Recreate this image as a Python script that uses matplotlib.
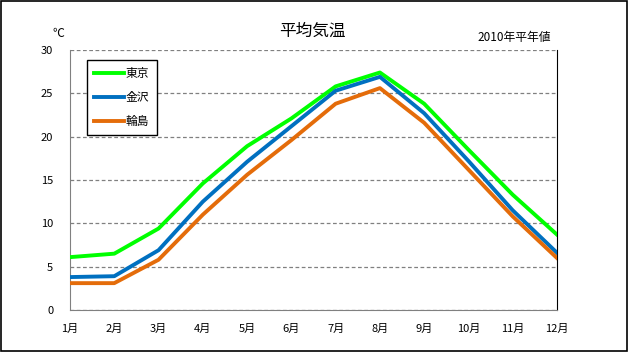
import matplotlib.pyplot as plt
from matplotlib.patches import Rectangle

plt.rcParams['font.family'] = ['Noto Sans CJK JP', 'DejaVu Sans']

months = ["1月", "2月", "3月", "4月", "5月", "6月", "7月", "8月", "9月", "10月", "11月", "12月"]
tokyo = [6.1, 6.5, 9.4, 14.6, 18.9, 22.1, 25.8, 27.4, 23.8, 18.5, 13.3, 8.7]
kanazawa = [3.8, 3.9, 6.9, 12.5, 17.1, 21.2, 25.3, 26.9, 22.7, 17.2, 11.5, 6.6]
wajima = [3.1, 3.1, 5.8, 11.0, 15.6, 19.6, 23.8, 25.6, 21.6, 16.2, 10.8, 6.0]

fig = plt.figure(figsize=(6.29, 3.52), dpi=100)
# outer border of the chart
fig.patches.append(Rectangle((0.002, 0.003), 0.995, 0.994, transform=fig.transFigure,
                             fill=False, edgecolor='black', linewidth=1.2))
ax = fig.add_axes([0.1113, 0.1193, 0.7742, 0.7387])

x = list(range(len(months)))
ax.plot(x, tokyo, color='#00ff00', lw=2.8, label='東京', zorder=3)
ax.plot(x, kanazawa, color='#0070c0', lw=2.8, label='金沢', zorder=3)
ax.plot(x, wajima, color='#e46c0a', lw=2.8, label='輪島', zorder=3)

ax.set_xlim(0, 11)
ax.set_ylim(0, 30)
ax.set_yticks(range(0, 31, 5))
ax.set_xticks(x)
ax.set_xticklabels(months)
ax.tick_params(length=0, labelsize=8)
ax.tick_params(axis='x', pad=10)
ax.tick_params(axis='y', pad=12)
ax.yaxis.grid(True, linestyle=(0, (3, 2)), color='#808080', linewidth=0.9)

ax.spines['top'].set_visible(False)
ax.spines['left'].set_color('#808080')
ax.spines['bottom'].set_color('#808080')
ax.spines['right'].set_color('black')

leg = ax.legend(loc='upper left', bbox_to_anchor=(0.035, 0.962), borderaxespad=0,
                fontsize=8.5, fancybox=False, edgecolor='black', framealpha=1,
                handlelength=2.5, labelspacing=0.95, borderpad=0.6, handletextpad=0.2)
leg.get_frame().set_linewidth(1.0)

fig.text(0.497, 0.912, '平均気温', ha='center', va='center', fontsize=12)
fig.text(0.092, 0.905, '℃', ha='center', va='center', fontsize=8.5)
fig.text(0.876, 0.893, '2010年平年値', ha='right', va='center', fontsize=8.5)

fig.savefig('out.png', dpi=100)
